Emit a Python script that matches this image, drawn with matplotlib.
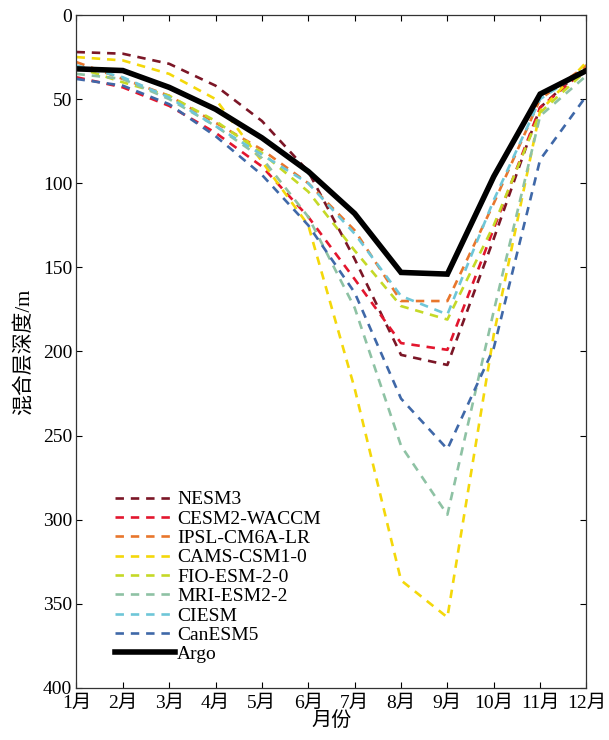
import matplotlib
matplotlib.use("Agg")
import matplotlib.pyplot as plt

plt.rcParams['font.family'] = ['Liberation Serif', 'Noto Sans CJK SC']
plt.rcParams['axes.unicode_minus'] = False

months = ['1月', '2月', '3月', '4月', '5月', '6月', '7月', '8月', '9月', '10月', '11月', '12月']

nesm3 = [22, 23, 29, 42, 63, 93, 145, 202, 208, 133, 55, 30]
cesm2_waccm = [37, 43, 54, 70, 90, 120, 157, 195, 199, 127, 55, 32]
ipsl_cm6a_lr = [28, 38, 48, 64, 80, 100, 128, 170, 170, 112, 50, 30]
cams_csm1_0 = [25, 27, 35, 50, 87, 125, 222, 336, 358, 190, 57, 28]
fio_esm_2_0 = [31, 40, 48, 63, 82, 105, 140, 173, 181, 125, 58, 33]
mri_esm2_2 = [35, 38, 50, 66, 85, 120, 174, 256, 297, 176, 60, 36]
ciesm = [30, 37, 49, 66, 83, 100, 130, 167, 178, 110, 50, 32]
canesm5 = [38, 42, 53, 72, 95, 125, 165, 228, 258, 198, 86, 48]
argo = [32, 33, 43, 56, 73, 93, 118, 153, 154, 96, 47, 33]

series = [
    ('NESM3', nesm3, '#7b1626'),
    ('CESM2-WACCM', cesm2_waccm, '#e3162e'),
    ('IPSL-CM6A-LR', ipsl_cm6a_lr, '#e8762c'),
    ('CAMS-CSM1-0', cams_csm1_0, '#f4d80a'),
    ('FIO-ESM-2-0', fio_esm_2_0, '#c5d927'),
    ('MRI-ESM2-2', mri_esm2_2, '#8ec2a4'),
    ('CIESM', ciesm, '#6ec6d8'),
    ('CanESM5', canesm5, '#3f68a8'),
]

fig = plt.figure(figsize=(6.09, 7.40), dpi=100)
ax = fig.add_axes([0.1256, 0.0703, 0.8374, 0.9094])

x = list(range(len(months)))
for name, vals, col in series:
    ax.plot(x, vals, color=col, lw=1.9, dashes=(3.2, 2.6), label=name)
ax.plot(x, argo, color='black', lw=4, label='Argo', solid_joinstyle='miter')

ax.set_xlim(0, 11)
ax.set_ylim(400, 0)
ax.set_xticks(x)
ax.set_xticklabels(months, fontsize=14)
ax.set_yticks(range(0, 401, 50))
ax.tick_params(axis='y', labelsize=14, pad=3)
ax.tick_params(direction='in', top=True, right=True, length=4, width=0.8)
ax.tick_params(axis='x', pad=5)
for s in ax.spines.values():
    s.set_linewidth(0.9)
    s.set_color('#333333')

ax.set_xlabel('月份', fontsize=14.5, labelpad=0)
ax.set_ylabel('混合层深度/m', fontsize=15, labelpad=6)

leg = ax.legend(loc='upper left', bbox_to_anchor=(0.075, 0.293), frameon=False,
                fontsize=14, handlelength=3.1, handletextpad=0.1,
                labelspacing=0.09, borderpad=0, borderaxespad=0)

fig.savefig('out.png', dpi=100)
